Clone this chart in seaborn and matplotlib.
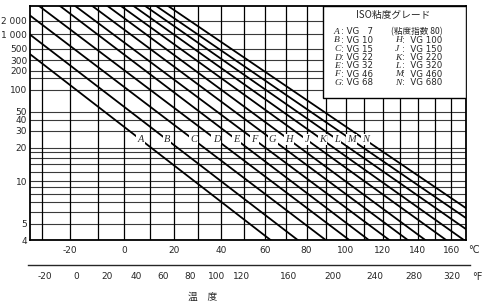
import numpy as np
import pandas as pd
import matplotlib
matplotlib.use("Agg")
import matplotlib.pyplot as plt
import seaborn as sns
from matplotlib.patches import Rectangle

# ---------------- data ----------------
grades = ["A", "B", "C", "D", "E", "F", "G", "H", "J", "K", "L", "M", "N"]
vg40 = [7, 10, 15, 22, 32, 46, 68, 100, 150, 220, 320, 460, 680]       # cSt at 40 C
kv100 = [2.06, 2.57, 3.3, 4.15, 5.1, 6.4, 8.0, 10.0, 13.0, 16.5, 21.0, 26.5, 33.5]  # cSt at 100 C
ref_temps = [40, 100]
label_visc = 24

yticks = [4, 5, 10, 20, 30, 40, 50, 100, 200, 300, 500, 1000, 2000]
ytick_labels = ["4", "5", "10", "20", "30", "40", "50", "100", "200", "300", "500", "1 000", "2 000"]
ygrid = [4, 5, 6, 7, 8, 9, 10, 12, 14, 16, 18, 20, 30, 40, 50, 100, 150, 200, 300, 500, 1000, 2000]
c_ticks = [-20, 0, 20, 40, 60, 80, 100, 120, 140, 160]
c_grid = [-30, -20, -10, 0, 10, 20, 30, 40, 50, 60, 70, 80, 90, 100, 110, 120, 130, 140, 150, 160]
c_minor = list(range(-30, 170, 5))
f_ticks = [-20, 0, 20, 40, 60, 80, 100, 120, 160, 200, 240, 280, 320]
f_minor = [-20, -10, 0, 10, 20, 30, 40, 50, 60, 70, 80, 90, 100, 110, 120, 140, 160, 180, 200,
           220, 240, 260, 280, 300, 320]
xlim_c = (-34, 169)
ylim_v = (4, 4800)

legend_left = [("A", ": VG   7"), ("B", ": VG 10"), ("C", ": VG 15"), ("D", ": VG 22"),
               ("E", ": VG 32"), ("F", ": VG 46"), ("G", ": VG 68")]
legend_right = [("H", ":  VG 100"), ("J", ":  VG 150"), ("K", ":  VG 220"),
                ("L", ":  VG 320"), ("M", ":  VG 460"), ("N", ":  VG 680")]

# ---------------- scales (ASTM style: log T, Walther viscosity) ----------------
def fwd_t(t):
    with np.errstate(all="ignore"):
        return np.log10(np.asarray(t, dtype=float) + 273.15)

def inv_t(u):
    return 10 ** np.asarray(u, dtype=float) - 273.15

def fwd_v(v):
    with np.errstate(all="ignore"):
        return np.log10(np.log10(np.asarray(v, dtype=float) + 0.7))

def inv_v(w):
    with np.errstate(all="ignore"):
        return 10 ** (10 ** np.asarray(w, dtype=float)) - 0.7

def c2f(c):
    return np.asarray(c, dtype=float) * 9 / 5 + 32

def f_fwd(f):
    return fwd_t((np.asarray(f, dtype=float) - 32) * 5 / 9)

def f_inv(u):
    return c2f(inv_t(u))

sns.set_style("white")
plt.rcParams["font.family"] = ["DejaVu Sans"]

W, H = 483, 306
fig = plt.figure(figsize=(W / 100, H / 100), dpi=100)
L, R, T, B = 30, 466, 6, 240
ax = fig.add_axes([L / W, 1 - B / H, (R - L) / W, (B - T) / H])
ax.set_xscale("function", functions=(fwd_t, inv_t))
ax.set_yscale("function", functions=(fwd_v, inv_v))
ax.set_xlim(*xlim_c)
ax.set_ylim(*ylim_v)

# lines: straight in transformed space through (40, VG) and (100, kv100), extended to the frame
rows = []
label_pos = []
u_ends = fwd_t(np.array(xlim_c))
for g, v40, v100 in zip(grades, vg40, kv100):
    u1, u2 = fwd_t(ref_temps[0]), fwd_t(ref_temps[1])
    w1, w2 = fwd_v(v40), fwd_v(v100)
    slope = (w2 - w1) / (u2 - u1)
    for u in u_ends:
        rows.append({"grade": g, "temp": float(inv_t(u)), "visc": float(inv_v(w1 + slope * (u - u1)))})
    ul = u1 + (fwd_v(label_visc) - w1) / slope
    label_pos.append(float(inv_t(ul)))
df = pd.DataFrame(rows)

# grid
for yv in ygrid:
    ax.axhline(yv, color="#3a3a3a", lw=0.8, zorder=1)
for xv in c_grid:
    ax.axvline(xv, color="black", lw=0.9, zorder=1)

sns.lineplot(data=df, x="temp", y="visc", units="grade", estimator=None, color="black",
             lw=1.3, ax=ax, legend=False, zorder=3, sort=False)

for g, tl in zip(grades, label_pos):
    ax.text(tl, label_visc, g, ha="center", va="center", fontsize=7.5, fontstyle="italic",
            family="Liberation Serif", zorder=4,
            bbox=dict(fc="white", ec="none", pad=0.8))

# axes cosmetics
ax.set_xlabel("")
ax.set_ylabel("")
for s in ax.spines.values():
    s.set_linewidth(1.3)
    s.set_color("black")
ax.set_yticks(yticks, ytick_labels)
ax.set_yticks([], minor=True)
ax.tick_params(axis="y", length=0, pad=2, labelsize=6.5)
ax.set_xticks(c_ticks, [str(c) for c in c_ticks])
ax.set_xticks(c_minor, minor=True)
ax.tick_params(axis="x", which="both", direction="in", length=3.5, width=0.8, labelsize=6.5, pad=4)
ax.grid(False)

# legend box
ax.add_patch(Rectangle(((323 - L) / (R - L), 1 - (98 - T) / (B - T)), (R - 323) / (R - L), (98 - T) / (B - T),
                       transform=ax.transAxes, fc="white", ec="black", lw=1.0, zorder=5))
cjk = ["Noto Sans CJK JP", "DejaVu Sans"]
fs = 6.2
fig.text(393 / W, 1 - 15 / H, "ISO粘度グレード", ha="center", va="center", fontsize=7, family=cjk)
row_y = [31.5, 40.5, 49, 57.5, 66, 74.5, 83]
for i, (g, txt) in enumerate(legend_left):
    y = 1 - row_y[i] / H
    fig.text(334 / W, y, g, ha="left", va="center", fontsize=6.8, fontstyle="italic", family="Liberation Serif")
    fig.text(341 / W, y, txt, ha="left", va="center", fontsize=fs)
fig.text(391 / W, 1 - row_y[0] / H, "(粘度指数 80)", ha="left", va="center", fontsize=fs, family=cjk)
for i, (g, txt) in enumerate(legend_right):
    y = 1 - row_y[i + 1] / H
    fig.text(395 / W, y, g, ha="left", va="center", fontsize=6.8, fontstyle="italic", family="Liberation Serif")
    fig.text(402 / W, y, txt, ha="left", va="center", fontsize=fs)

fig.text(468 / W, 1 - 250 / H, "°C", ha="left", va="center", fontsize=7)

# Fahrenheit axis
axf = fig.add_axes([28 / W, 1 - 265 / H, (470 - 28) / W, 0.0001])
x0 = float(inv_t(fwd_t(xlim_c[0]) - (L - 28) / (R - L) * (fwd_t(xlim_c[1]) - fwd_t(xlim_c[0]))))
x1 = float(inv_t(fwd_t(xlim_c[1]) + (470 - R) / (R - L) * (fwd_t(xlim_c[1]) - fwd_t(xlim_c[0]))))
axf.set_xscale("function", functions=(f_fwd, f_inv))
axf.set_xlim(float(c2f(x0)), float(c2f(x1)))
for k in ["top", "left", "right"]:
    axf.spines[k].set_visible(False)
axf.spines["bottom"].set_linewidth(1.0)
axf.set_yticks([])
axf.set_xticks(f_ticks, [str(f) for f in f_ticks])
axf.set_xticks(f_minor, minor=True)
axf.tick_params(axis="x", which="major", direction="in", length=4, width=0.8, labelsize=6.5, pad=5)
axf.tick_params(axis="x", which="minor", direction="in", length=2.5, width=0.7)
axf.set_facecolor("none")
fig.text(472 / W, 1 - 277 / H, "°F", ha="left", va="center", fontsize=7)

fig.text(203 / W, 1 - 297 / H, "温　度", ha="center", va="center", fontsize=7, family=cjk)

fig.savefig("out.png", dpi=100)
